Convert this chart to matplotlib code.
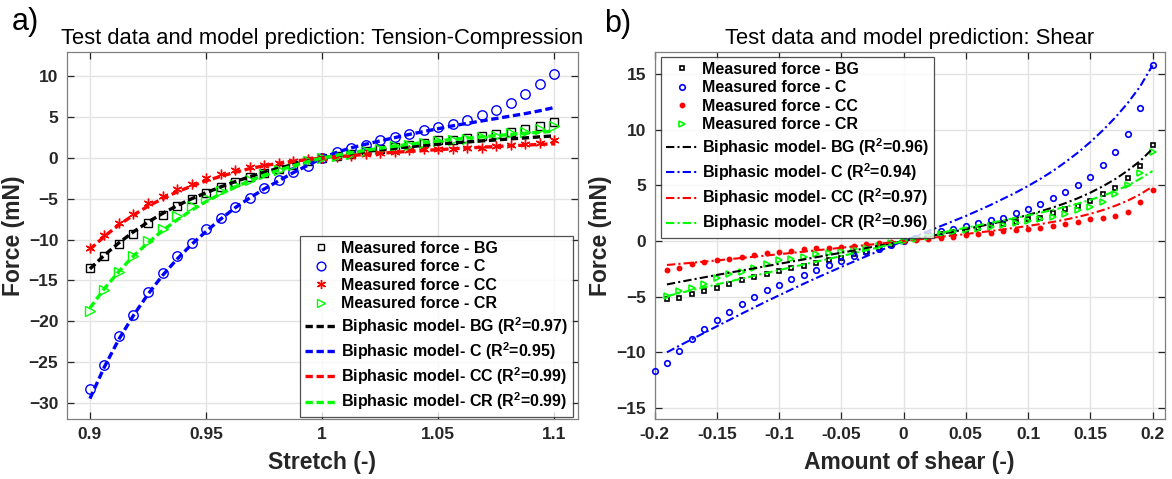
import numpy as np
import matplotlib
matplotlib.use("Agg")
import matplotlib.pyplot as plt
from matplotlib.lines import Line2D

plt.rcParams['font.family'] = ['Liberation Sans', 'DejaVu Sans']
plt.rcParams['mathtext.fontset'] = 'custom'
plt.rcParams['mathtext.rm'] = 'Liberation Sans:bold'
plt.rcParams['mathtext.bf'] = 'Liberation Sans:bold'

# ---------------- Tension-Compression ----------------
stretch = np.linspace(0.9, 1.1, 33)

tc_meas_bg = [-13.54, -12.07, -10.49, -9.35, -8.0, -7.03, -5.89, -5.08, -4.27, -3.54, -2.97,
              -2.36, -1.83, -1.3, -0.81, -0.41, 0.0, 0.28, 0.53, 0.81, 1.1, 1.34, 1.63, 1.83,
              2.15, 2.24, 2.44, 2.72, 2.97, 3.25, 3.58, 3.94, 4.47]
tc_meas_c = [-28.34, -25.41, -21.88, -19.2, -16.46, -14.1, -12.07, -10.37, -8.74, -7.32, -5.98,
             -4.88, -3.66, -2.65, -1.76, -0.94, 0.0, 0.73, 1.22, 1.63, 2.15, 2.52, 2.97, 3.46,
             3.78, 4.19, 4.67, 5.28, 5.89, 6.79, 7.8, 9.02, 10.28]
tc_meas_cc = [-10.98, -9.43, -8.0, -6.87, -5.57, -4.67, -3.78, -3.13, -2.44, -1.91, -1.5, -1.1,
              -0.81, -0.61, -0.33, -0.12, 0.0, 0.12, 0.28, 0.49, 0.65, 0.77, 0.98, 1.1, 1.14,
              1.14, 1.18, 1.26, 1.42, 1.54, 1.67, 1.87, 2.2]
tc_meas_cr = [-18.7, -16.14, -14.02, -12.07, -10.16, -8.74, -7.11, -5.89, -4.88, -4.07, -3.25,
              -2.64, -1.91, -1.42, -0.81, -0.33, 0.0, 0.2, 0.49, 0.81, 1.1, 1.42, 1.63, 1.83,
              2.03, 2.24, 2.36, 2.56, 2.72, 3.05, 3.25, 3.58, 3.94]

tc_model_bg = [-13.6, -11.9, -10.4, -9.05, -7.85, -6.8, -5.85, -5.0, -4.25, -3.55, -2.9, -2.3,
               -1.75, -1.25, -0.8, -0.38, 0.0, 0.3, 0.55, 0.8, 1.0, 1.2, 1.38, 1.55, 1.7, 1.85,
               1.98, 2.1, 2.22, 2.35, 2.47, 2.6, 2.72]
tc_model_c = [-29.5, -25.6, -22.2, -19.3, -16.7, -14.4, -12.4, -10.6, -9.0, -7.5, -6.1, -4.9,
              -3.8, -2.8, -1.8, -0.9, 0.0, 0.7, 1.25, 1.7, 2.1, 2.5, 2.9, 3.25, 3.6, 3.95, 4.25,
              4.55, 4.85, 5.15, 5.45, 5.8, 6.2]
tc_model_cc = [-11.2, -9.6, -8.2, -7.0, -5.9, -5.0, -4.15, -3.45, -2.8, -2.25, -1.75, -1.3,
               -0.95, -0.65, -0.4, -0.2, 0.0, 0.15, 0.3, 0.45, 0.58, 0.7, 0.82, 0.93, 1.03, 1.13,
               1.23, 1.32, 1.41, 1.5, 1.58, 1.67, 1.75]
tc_model_cr = [-18.4, -16.0, -13.9, -12.0, -10.4, -8.9, -7.6, -6.4, -5.35, -4.4, -3.55, -2.8,
               -2.1, -1.5, -0.95, -0.45, 0.0, 0.35, 0.65, 0.95, 1.2, 1.45, 1.7, 1.9, 2.1, 2.3,
               2.45, 2.6, 2.75, 2.9, 3.05, 3.15, 3.3]

tc_r2 = {'BG': '0.97', 'C': '0.95', 'CC': '0.99', 'CR': '0.99'}

# ---------------- Shear ----------------
shear = np.linspace(-0.2, 0.2, 41)
nan = np.nan

sh_meas_bg = [nan, -5.24, -5.09, -4.73, -4.49, -4.19, -3.83, -3.53, -3.23, -2.93, -2.69, -2.45,
              -2.2, -1.94, -1.7, -1.49, -1.2, -0.95, -0.65, -0.35, 0.0, 0.25, 0.45, 0.65, 0.85,
              1.0, 1.2, 1.4, 1.55, 1.75, 1.95, 2.11, 2.5, 2.86, 3.16, 3.61, 4.21, 4.76, 5.63,
              6.77, 8.6]
sh_meas_c = [-11.7, -11.0, -9.9, -8.8, -7.95, -7.13, -6.38, -5.69, -5.0, -4.4, -3.95, -3.44,
             -3.05, -2.6, -2.18, -1.79, -1.3, -1.0, -0.7, -0.35, 0.0, 0.3, 0.6, 0.9, 1.06, 1.36,
             1.6, 1.87, 2.11, 2.5, 2.92, 3.37, 3.83, 4.43, 5.03, 5.78, 6.83, 7.98, 9.6, 12.0,
             15.8]
sh_meas_cc = [nan, -2.6, -2.39, -2.03, -1.85, -1.73, -1.58, -1.4, -1.28, -1.1, -0.98, -0.89,
              -0.74, -0.65, -0.59, -0.53, -0.44, -0.29, -0.14, -0.07, 0.0, 0.1, 0.2, 0.3, 0.4,
              0.52, 0.61, 0.76, 0.91, 0.97, 1.06, 1.21, 1.36, 1.51, 1.75, 1.96, 2.05, 2.27,
              2.57, 3.47, 4.6]
sh_meas_cr = [nan, -4.94, -4.49, -4.19, -3.89, -3.35, -2.99, -2.75, -2.39, -2.09, -1.7, -1.58,
              -1.4, -1.19, -1.04, -0.89, -0.68, -0.59, -0.44, -0.2, 0.0, 0.2, 0.4, 0.6, 0.8,
              0.95, 1.1, 1.25, 1.4, 1.6, 1.8, 2.0, 2.2, 2.45, 2.75, 3.1, 3.5, 4.27, 5.03, 6.1,
              8.0]

sh_model_bg = [nan, -3.9, -3.68, -3.47, -3.26, -3.05, -2.85, -2.65, -2.45, -2.25, -2.05, -1.85,
               -1.65, -1.45, -1.25, -1.05, -0.85, -0.63, -0.42, -0.21, 0.0, 0.21, 0.42, 0.63,
               0.85, 1.07, 1.3, 1.54, 1.79, 2.06, 2.35, 2.67, 3.02, 3.41, 3.85, 4.35, 4.92,
               5.57, 6.33, 7.2, 8.3]
sh_model_c = [nan, -10.0, -9.41, -8.83, -8.25, -7.67, -7.1, -6.53, -5.97, -5.42, -4.88, -4.35,
              -3.83, -3.32, -2.82, -2.33, -1.85, -1.37, -0.9, -0.45, 0.0, 0.45, 0.9, 1.35, 1.8,
              2.25, 2.75, 3.25, 3.8, 4.35, 4.95, 5.6, 6.3, 7.1, 7.95, 8.9, 9.95, 11.1, 12.4,
              13.9, 15.8]
sh_model_cc = [nan, -2.15, -2.05, -1.95, -1.85, -1.74, -1.63, -1.52, -1.41, -1.3, -1.18, -1.07,
               -0.95, -0.83, -0.72, -0.6, -0.48, -0.36, -0.24, -0.12, 0.0, 0.12, 0.25, 0.38,
               0.5, 0.63, 0.77, 0.9, 1.05, 1.2, 1.36, 1.53, 1.72, 1.93, 2.17, 2.45, 2.78, 3.17,
               3.63, 4.2, 4.9]
sh_model_cr = [nan, -4.95, -4.68, -4.42, -4.16, -3.9, -3.64, -3.38, -3.12, -2.87, -2.61, -2.36,
               -2.1, -1.85, -1.6, -1.35, -1.1, -0.83, -0.56, -0.28, 0.0, 0.26, 0.5, 0.74, 0.97,
               1.2, 1.42, 1.64, 1.86, 2.08, 2.31, 2.55, 2.8, 3.07, 3.37, 3.7, 4.07, 4.5, 5.0,
               5.6, 6.3]

sh_r2 = {'BG': '0.96', 'C': '0.94', 'CC': '0.97', 'CR': '0.96'}

groups = ['BG', 'C', 'CC', 'CR']
colors = {'BG': 'black', 'C': '#0000ff', 'CC': '#ff0000', 'CR': '#00ff00'}
markers = {'BG': 's', 'C': 'o', 'CC': (6, 2, 0), 'CR': '>'}

TXT = '#262626'
GRID = '#e3e3e3'
TICK_FS = 12.5
LABEL_FS = 16.5
TITLE_FS = 15.8
LEG_FS = 11.5

fig = plt.figure(figsize=(11.72, 4.79), dpi=100)
W, H = 1172.0, 479.0
ax1 = fig.add_axes([66.7 / W, 60 / H, 511 / W, 367 / H])
ax2 = fig.add_axes([654.5 / W, 60 / H, 510.5 / W, 367 / H])


def style_axes(ax):
    ax.grid(True, color=GRID, linewidth=1.0)
    ax.set_axisbelow(True)
    for sp in ax.spines.values():
        sp.set_color('#7f7f7f')
        sp.set_linewidth(0.9)
    ax.tick_params(direction='in', length=5, width=0.9, color=TXT,
                   top=True, right=True, labelsize=TICK_FS, labelcolor=TXT, pad=6)
    for lab in ax.get_xticklabels() + ax.get_yticklabels():
        lab.set_fontweight('bold')


# ---- panel a ----
tc_meas = {'BG': tc_meas_bg, 'C': tc_meas_c, 'CC': tc_meas_cc, 'CR': tc_meas_cr}
tc_model = {'BG': tc_model_bg, 'C': tc_model_c, 'CC': tc_model_cc, 'CR': tc_model_cr}
msize_a = {'BG': 5.2, 'C': 6.8, 'CC': 7, 'CR': 6.8}

handles_a = []
for g in groups:
    ax1.plot(stretch, tc_meas[g], linestyle='none', marker=markers[g], markersize=msize_a[g],
             markerfacecolor='none', markeredgecolor=colors[g], markeredgewidth=1.0, zorder=3)
    handles_a.append(Line2D([], [], linestyle='none', marker=markers[g],
                            markersize=msize_a[g] - 0.5, markerfacecolor='none',
                            markeredgecolor=colors[g], markeredgewidth=1.0,
                            label=f'Measured force - {g}'))
for g in groups:
    ax1.plot(stretch, tc_model[g], color=colors[g], linewidth=2.4, linestyle=(0, (2.2, 1.1)),
             zorder=4)
    handles_a.append(Line2D([], [], color=colors[g], linewidth=2.4, linestyle=(0, (2.2, 1.1)),
                            label=f'Biphasic model- {g} (R$^{{2}}$={tc_r2[g]})'))

ax1.set_xlim(0.89, 1.11)
ax1.set_ylim(-32, 13)
ax1.set_xticks([0.9, 0.95, 1.0, 1.05, 1.1])
ax1.set_xticklabels(['0.9', '0.95', '1', '1.05', '1.1'])
ax1.set_yticks(np.arange(-30, 11, 5))
style_axes(ax1)
ax1.set_xlabel('Stretch (-)', fontsize=LABEL_FS, fontweight='bold', color=TXT, labelpad=6)
ax1.set_ylabel('Force (mN)', fontsize=LABEL_FS, fontweight='bold', color=TXT, labelpad=3)
ax1.set_title('Test data and model prediction: Tension-Compression', fontsize=TITLE_FS,
              color='black', pad=6)
leg_a = ax1.legend(handles=handles_a, loc='upper left', bbox_to_anchor=(0.4566, 0.4986),
                   borderaxespad=0, prop={'weight': 'bold', 'size': LEG_FS}, frameon=True,
                   fancybox=False, edgecolor='#262626', handlelength=2.0, handletextpad=0.25,
                   labelspacing=0.22, borderpad=0.3)
leg_a.get_frame().set_linewidth(0.9)

# ---- panel b ----
sh_meas = {'BG': sh_meas_bg, 'C': sh_meas_c, 'CC': sh_meas_cc, 'CR': sh_meas_cr}
sh_model = {'BG': sh_model_bg, 'C': sh_model_c, 'CC': sh_model_cc, 'CR': sh_model_cr}
markers_b = {'BG': 's', 'C': 'o', 'CC': 'o', 'CR': '>'}
msize_b = {'BG': 3.0, 'C': 4.0, 'CC': 3.0, 'CR': 4.0}
face_b = {'BG': 'none', 'C': 'none', 'CC': '#ff0000', 'CR': 'none'}

handles_b = []
for g in groups:
    ax2.plot(shear, sh_meas[g], linestyle='none', marker=markers_b[g], markersize=msize_b[g],
             markerfacecolor=face_b[g], markeredgecolor=colors[g], markeredgewidth=1.2,
             zorder=3, clip_on=False)
    handles_b.append(Line2D([], [], linestyle='none', marker=markers_b[g],
                            markersize=msize_b[g], markerfacecolor=face_b[g],
                            markeredgecolor=colors[g], markeredgewidth=1.2,
                            label=f'Measured force - {g}'))
for g in groups:
    ax2.plot(shear, sh_model[g], color=colors[g], linewidth=1.5, linestyle=(0, (4, 1.5, 1, 1.5)),
             zorder=4)
    handles_b.append(Line2D([], [], color=colors[g], linewidth=1.5,
                            linestyle=(0, (4, 1.5, 1, 1.5)),
                            label=f'Biphasic model- {g} (R$^{{2}}$={sh_r2[g]})'))

ax2.set_xlim(-0.2, 0.21)
ax2.set_ylim(-16, 17)
ax2.set_xticks(np.round(np.arange(-0.2, 0.201, 0.05), 2))
ax2.set_xticklabels(['-0.2', '-0.15', '-0.1', '-0.05', '0', '0.05', '0.1', '0.15', '0.2'])
ax2.set_yticks(np.arange(-15, 16, 5))
style_axes(ax2)
ax2.set_xlabel('Amount of shear (-)', fontsize=LABEL_FS, fontweight='bold', color=TXT, labelpad=6)
ax2.set_ylabel('Force (mN)', fontsize=LABEL_FS, fontweight='bold', color=TXT, labelpad=3)
ax2.set_title('Test data and model prediction: Shear', fontsize=TITLE_FS, color='black', pad=6)
leg_b = ax2.legend(handles=handles_b, loc='upper left', bbox_to_anchor=(0.0127, 0.986),
                   borderaxespad=0, prop={'weight': 'bold', 'size': LEG_FS}, frameon=True,
                   fancybox=False, edgecolor='#262626', handlelength=2.0, handletextpad=0.25,
                   labelspacing=0.22, borderpad=0.3)
leg_b.get_frame().set_linewidth(0.9)
leg_b.set_zorder(10)

fig.text(12 / W, 1 - 22 / H, 'a)', fontsize=22, va='center', ha='left')
fig.text(604 / W, 1 - 24 / H, 'b)', fontsize=22, va='center', ha='left')

fig.savefig('out.png', dpi=100)
